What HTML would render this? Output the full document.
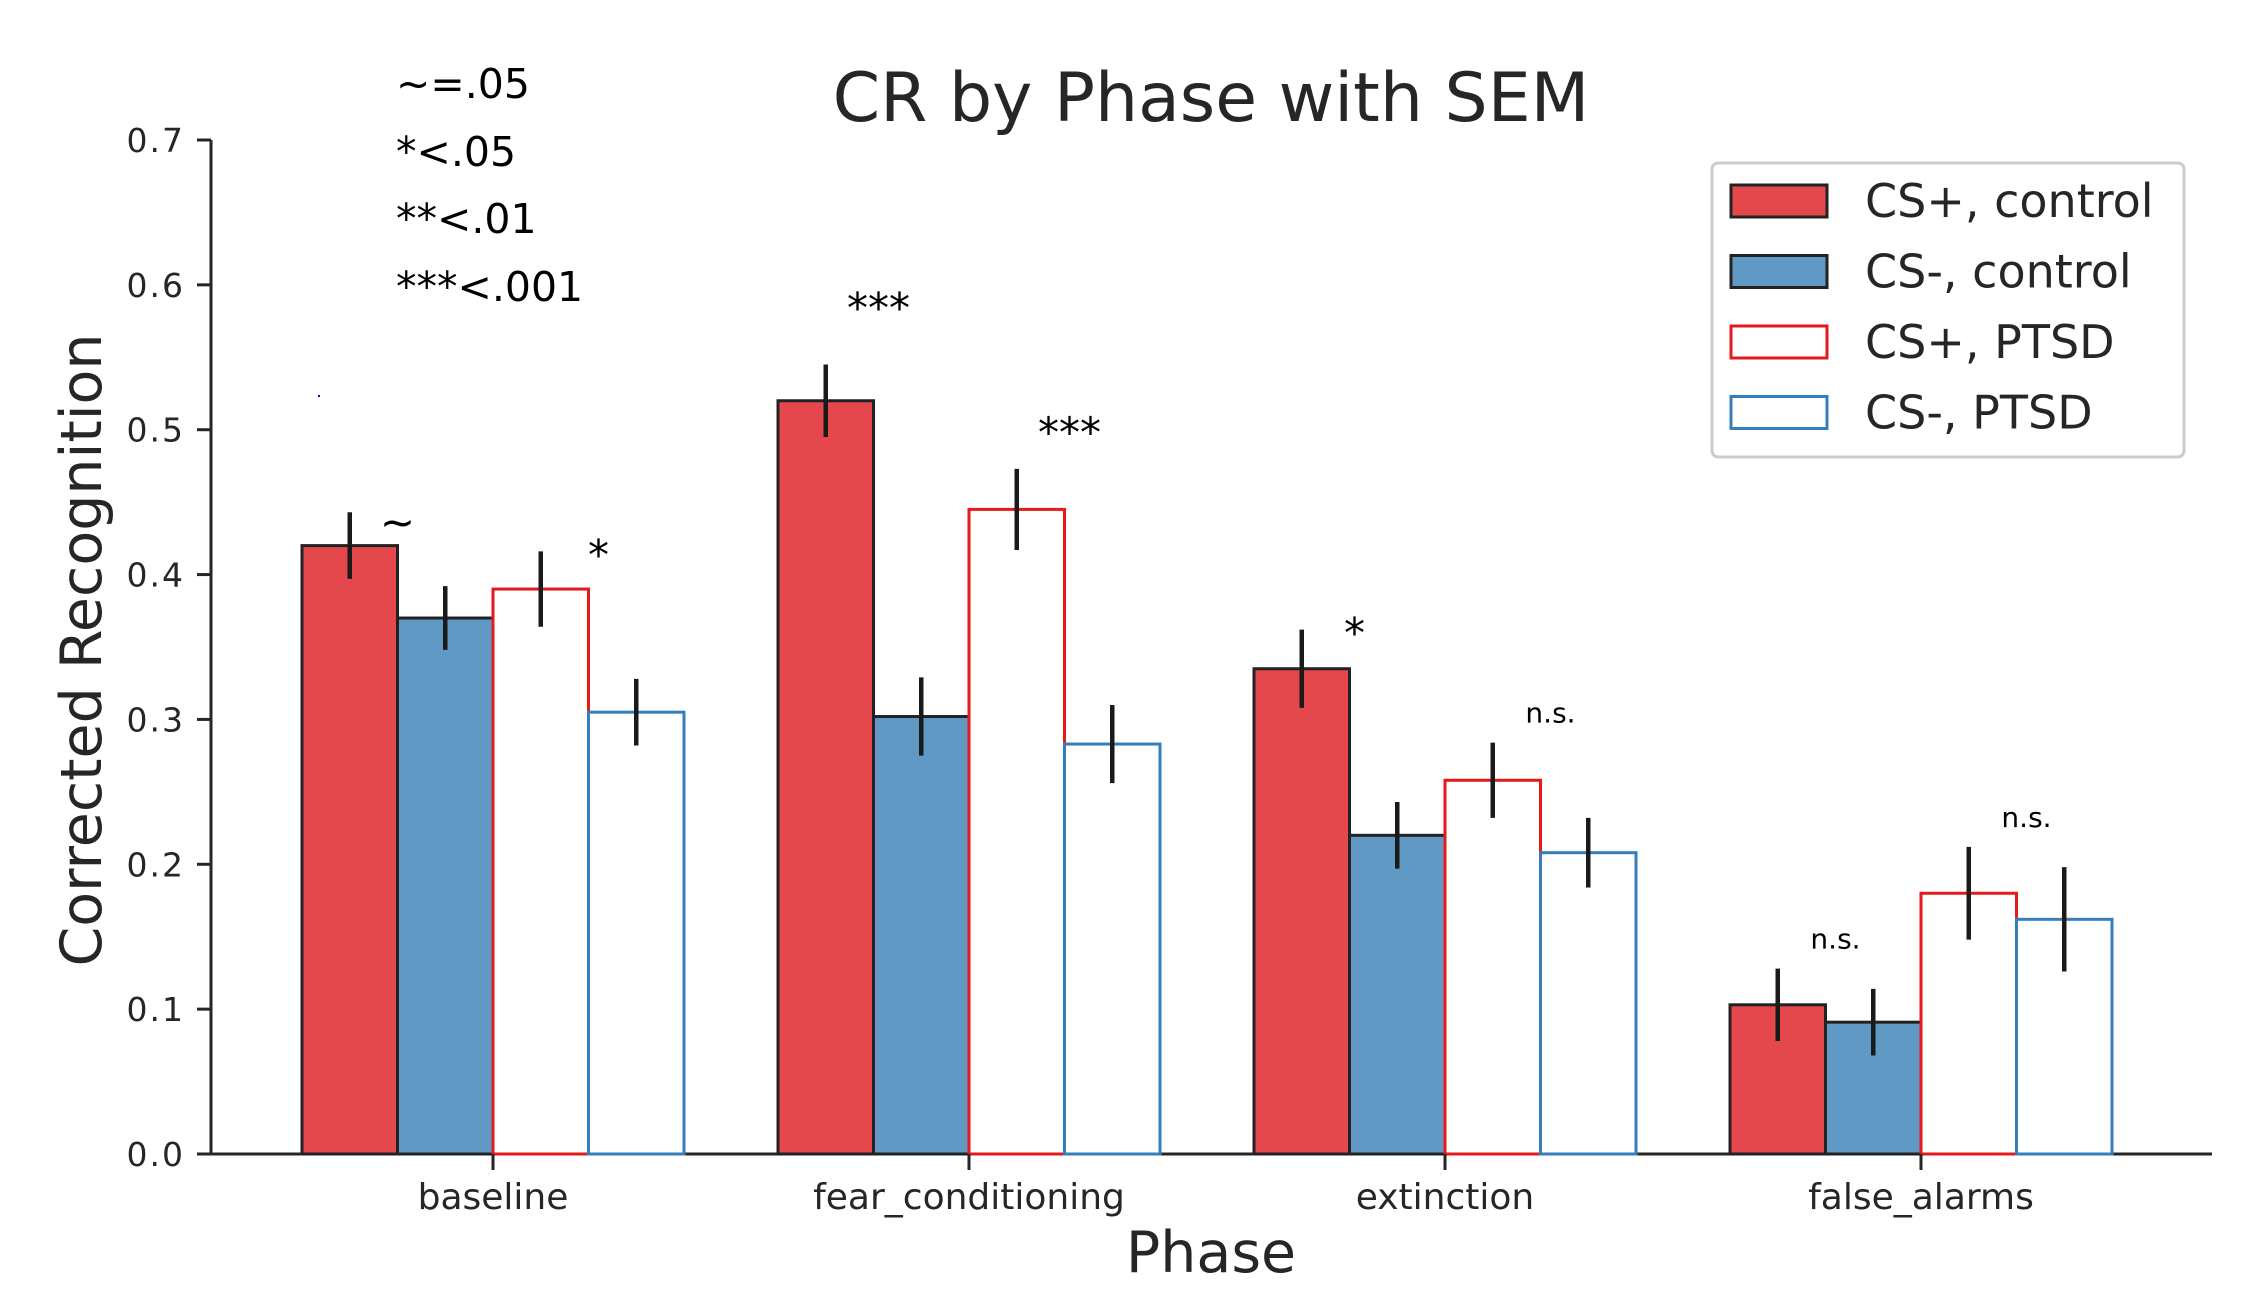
<!DOCTYPE html>
<html><head><meta charset="utf-8"><style>
body{margin:0;background:#fff}
svg{display:block;font-family:"DejaVu Sans","Liberation Sans",sans-serif}
</style></head><body>
<svg id="chart" width="2241" height="1298" viewBox="0 0 2241 1298">
<text x="1211" y="121" font-size="68" text-anchor="middle" fill="#262626">CR by Phase with SEM</text>
<g id="plot"></g>
<g font-family="DejaVu Sans, sans-serif" font-size="41" fill="#000">
<text x="396" y="98">~=.05</text><text x="396" y="166">*&lt;.05</text><text x="396" y="233">**&lt;.01</text><text x="396" y="301">***&lt;.001</text>
</g>
<rect x="318" y="395" width="2" height="2" fill="#00f"/>
<text x="101" y="650" font-size="57" fill="#262626" text-anchor="middle" transform="rotate(-90 101 650)">Corrected Recognition</text>
<text x="1211" y="1272" font-size="57" fill="#262626" text-anchor="middle">Phase</text>
<g>
<rect x="1712" y="163" width="472" height="294" rx="6" fill="#fff" stroke="#ccc" stroke-width="3"/>
<g id="legend-items"></g>
</g>
</svg>
<script>
const categories=["baseline","fear_conditioning","extinction","false_alarms"];
const seriesNames=["CS+, control","CS-, control","CS+, PTSD","CS-, PTSD"];
const csPlusControl=[0.42,0.52,0.335,0.103];
const csMinusControl=[0.37,0.302,0.22,0.091];
const csPlusPTSD=[0.39,0.445,0.258,0.18];
const csMinusPTSD=[0.305,0.283,0.208,0.162];
const errPlusControl=[0.023,0.025,0.027,0.025];
const errMinusControl=[0.022,0.027,0.023,0.023];
const errPlusPTSD=[0.026,0.028,0.026,0.032];
const errMinusPTSD=[0.023,0.027,0.024,0.036];
const yTicks=[0,0.1,0.2,0.3,0.4,0.5,0.6,0.7];
const sigLabels=[["~","*"],["***","***"],["*","n.s."],["n.s.","n.s."]];

const NS="http://www.w3.org/2000/svg";
const x0=211,x1=2212,yBase=1154,yTop=140,yMax=0.7;
const groupW=476,firstC=493,barW=95.5;
const yS=v=>yBase-(yBase-yTop)*v/yMax;
const xC=i=>firstC+i*groupW;
const plot=document.getElementById('plot');
function mk(tag,a,p){const e=document.createElementNS(NS,tag);for(const k in a)e.setAttribute(k,a[k]);(p||plot).appendChild(e);return e;}
const series=[csPlusControl,csMinusControl,csPlusPTSD,csMinusPTSD];
const errs=[errPlusControl,errMinusControl,errPlusPTSD,errMinusPTSD];
const fills=["#e4484c","#6199c5","#fff","#fff"];
const strokes=["#222","#222","#e41a1c","#377eb8"];
let ax=mk('line',{x1:x0,y1:yTop,x2:x0,y2:yBase+1,stroke:'#262626','stroke-width':3});

let bx=mk('line',{x1:x0-1,y1:yBase,x2:x1,y2:yBase,stroke:'#262626','stroke-width':3});

yTicks.forEach(t=>{
  const y=yS(t);
  const l=mk('line',{x1:x0-14,y1:y,x2:x0,y2:y,stroke:'#262626','stroke-width':3});
  
  const tx=mk('text',{x:x0-26,y:y+12,'font-size':33,'letter-spacing':2,'text-anchor':'end',fill:'#262626'});
  tx.textContent=t.toFixed(1);
  
});
categories.forEach((c,i)=>{
  series.forEach((s,j)=>{
    const bxl=xC(i)-2*barW+j*barW;
    const r=mk('rect',{x:bxl,y:yS(s[i]),width:barW,height:yBase-yS(s[i]),fill:fills[j],stroke:strokes[j],'stroke-width':3});
    
  });
  series.forEach((s,j)=>{
    const cx=xC(i)-1.5*barW+j*barW;
    const e=mk('line',{x1:cx,y1:yS(s[i]+errs[j][i]),x2:cx,y2:yS(s[i]-errs[j][i]),stroke:'#1a1a1a','stroke-width':4.5});
    
  });
  const t=mk('line',{x1:xC(i),y1:yBase,x2:xC(i),y2:yBase+16,stroke:'#262626','stroke-width':3});
  
  const tl=mk('text',{x:xC(i),y:yBase+55,'font-size':36,'text-anchor':'middle',fill:'#262626'});
  tl.textContent=c;
  
  [[0,1],[2,3]].forEach((pair,k)=>{
    const lab=sigLabels[i][k];
    const top=Math.max(series[pair[0]][i]+errs[pair[0]][i],series[pair[1]][i]+errs[pair[1]][i]);
    const ns=lab==="n.s.";
    let x=xC(i)-2*barW+(2*k+1)*barW+(ns?10:(lab==="~"?0:5));
    if(lab==="*"&&i===0)x+=5;
    let y;
    if(ns) y=yS(top)-20;
    else if(lab==="~") y=yS(top)+24;
    else if(lab==="*") y=yS(top)+18;
    else y=yS(top)-32;
    if(lab==="***"&&i===1&&k===1) y=yS(top)-22;
    if(lab==="***"&&i===1&&k===0) y=yS(top)-42;
    const st=mk('text',{x:x,y:y,'font-size':ns?28:42,'text-anchor':'middle',fill:'#000','font-family':'DejaVu Sans, sans-serif'});
    st.textContent=lab;
    
  });
});
const lg=document.getElementById('legend-items');
seriesNames.forEach((n,j)=>{
  const y=201+j*70.5;
  const r=mk('rect',{x:1731,y:y-16,width:96,height:32,fill:fills[j],stroke:strokes[j],'stroke-width':3},lg);
  
  const t=mk('text',{x:1865,y:y+16,'font-size':46,fill:'#262626'},lg);
  t.textContent=n;
  
});
</script>
</body></html>
